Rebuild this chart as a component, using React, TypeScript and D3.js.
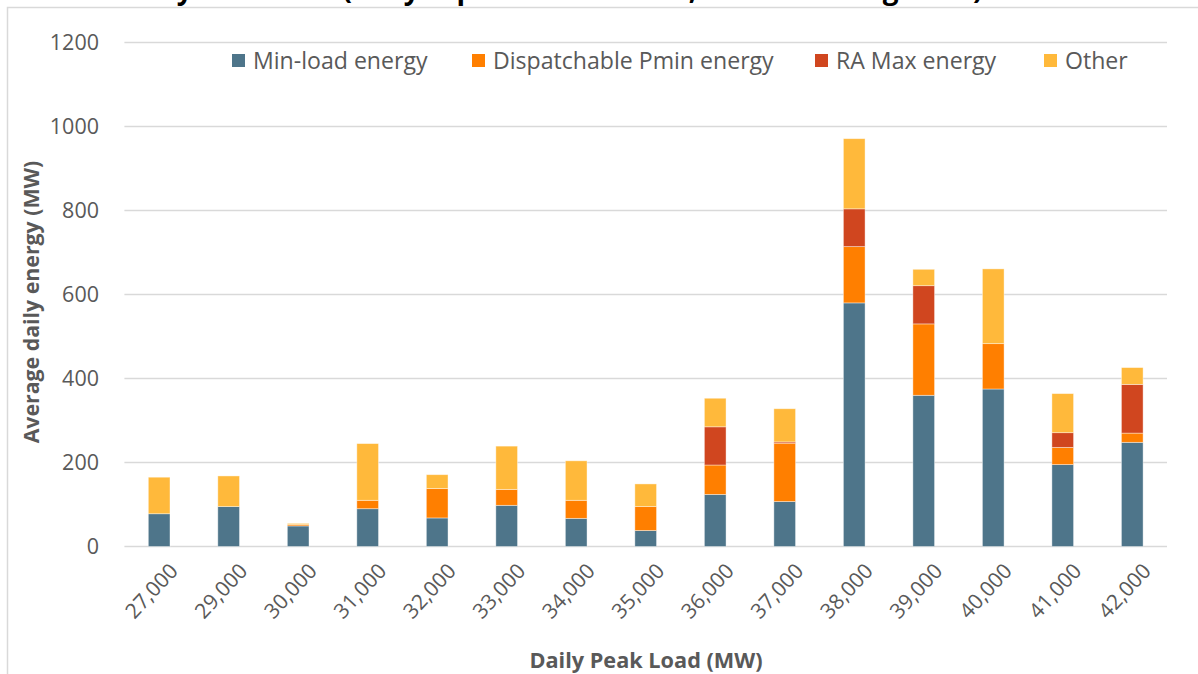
import React from "react";
import * as d3 from "d3";

const categories = ["27,000","29,000","30,000","31,000","32,000","33,000","34,000","35,000","36,000","37,000","38,000","39,000","40,000","41,000","42,000"];
const minLoad = [78, 95, 49, 90, 68, 98, 67, 38, 124, 107, 580, 360, 375, 195, 248];
const dispPmin = [0, 0, 3, 20, 70, 38, 43, 57, 70, 139, 134, 170, 108, 41, 22];
const raMax = [0, 0, 0, 0, 0, 0, 0, 0, 91, 3, 90, 91, 0, 35, 116];
const other = [87, 73, 3, 135, 33, 103, 94, 54, 68, 79, 167, 39, 178, 93, 40];
const seriesNames = ["Min-load energy", "Dispatchable Pmin energy", "RA Max energy", "Other"];
const seriesKeys = ["minLoad", "dispPmin", "raMax", "other"];
const seriesColors = ["#4e758a", "#ff7f00", "#d0461f", "#ffb93b"];
const yTicks = [0, 200, 400, 600, 800, 1000, 1200];
const titleText = "Daily Unit Load (daily top load bin in MW, all RA ranking total)";
const yTitle = "Average daily energy (MW)";
const xTitle = "Daily Peak Load (MW)";

const W = 1198, H = 674;
const plot = { left: 124.4, right: 1167, top: 42.5, bottom: 546.5 };
const legendX = [232, 472, 815, 1044];
const FONT = "'Open Sans', sans-serif";
const GRAY = "#595959";

export default function App() {
  const table = categories.map((c, i) => ({
    cat: c, minLoad: minLoad[i], dispPmin: dispPmin[i], raMax: raMax[i], other: other[i],
  }));
  const stacked = d3.stack<any>().keys(seriesKeys)(table);
  const x = d3.scaleBand().domain(categories).range([plot.left, plot.right]).paddingInner(0.688).paddingOuter(0.344);
  const y = d3.scaleLinear().domain([0, 1200]).range([plot.bottom, plot.top]);

  return (
    <svg width={W} height={H} style={{ position: "absolute", left: 0, top: 0, display: "block", background: "#fff" }}>
      <text x={122} y={-1.5} fontFamily={FONT} fontWeight="bold" fontSize={28} fill="#000">{titleText}</text>
      <rect x={7.5} y={7.5} width={W + 20} height={H + 20} fill="none" stroke="#d9d9d9" strokeWidth={1.5} />
      {yTicks.map((t) => (
        <g key={t}>
          <line x1={plot.left} x2={plot.right} y1={y(t)} y2={y(t)} stroke="#d9d9d9" strokeWidth={1.3} />
          <text x={99} y={y(t)} dy="0.36em" textAnchor="end" fontFamily={FONT} fontSize={21.5} fill={GRAY}>{t}</text>
        </g>
      ))}
      {stacked.map((s, si) => (
        <g key={s.key} fill={seriesColors[si]}>
          {s.map((d, i) => {
            const h = y(d[0]) - y(d[1]);
            if (h <= 0) return null;
            return (
              <rect key={i} x={x(categories[i])} width={x.bandwidth()} y={y(d[1])} height={h}
                stroke="#ffffff" strokeOpacity={0.5} strokeWidth={0.8} />
            );
          })}
        </g>
      ))}
      {categories.map((c) => {
        const cx = (x(c) as number) + x.bandwidth() / 2 + 20;
        const cy = 572;
        return (
          <text key={c} x={cx} y={cy} transform={`rotate(-47 ${cx} ${cy})`} textAnchor="end"
            fontFamily={FONT} fontSize={21} fill={GRAY}>{c}</text>
        );
      })}
      <text x={646} y={668} textAnchor="middle" fontFamily={FONT} fontWeight="bold" fontSize={21.7} fill={GRAY}>{xTitle}</text>
      <text transform={`translate(39 302) rotate(-90)`} textAnchor="middle" fontFamily={FONT} fontWeight="bold" fontSize={21.3} fill={GRAY}>{yTitle}</text>
      {seriesNames.map((n, i) => (
        <g key={n}>
          <rect x={legendX[i]} y={54} width={13} height={13} fill={seriesColors[i]} />
          <text x={legendX[i] + 21} y={68.5} fontFamily={FONT} fontSize={23.1} fill={GRAY}>{n}</text>
        </g>
      ))}
    </svg>
  );
}
